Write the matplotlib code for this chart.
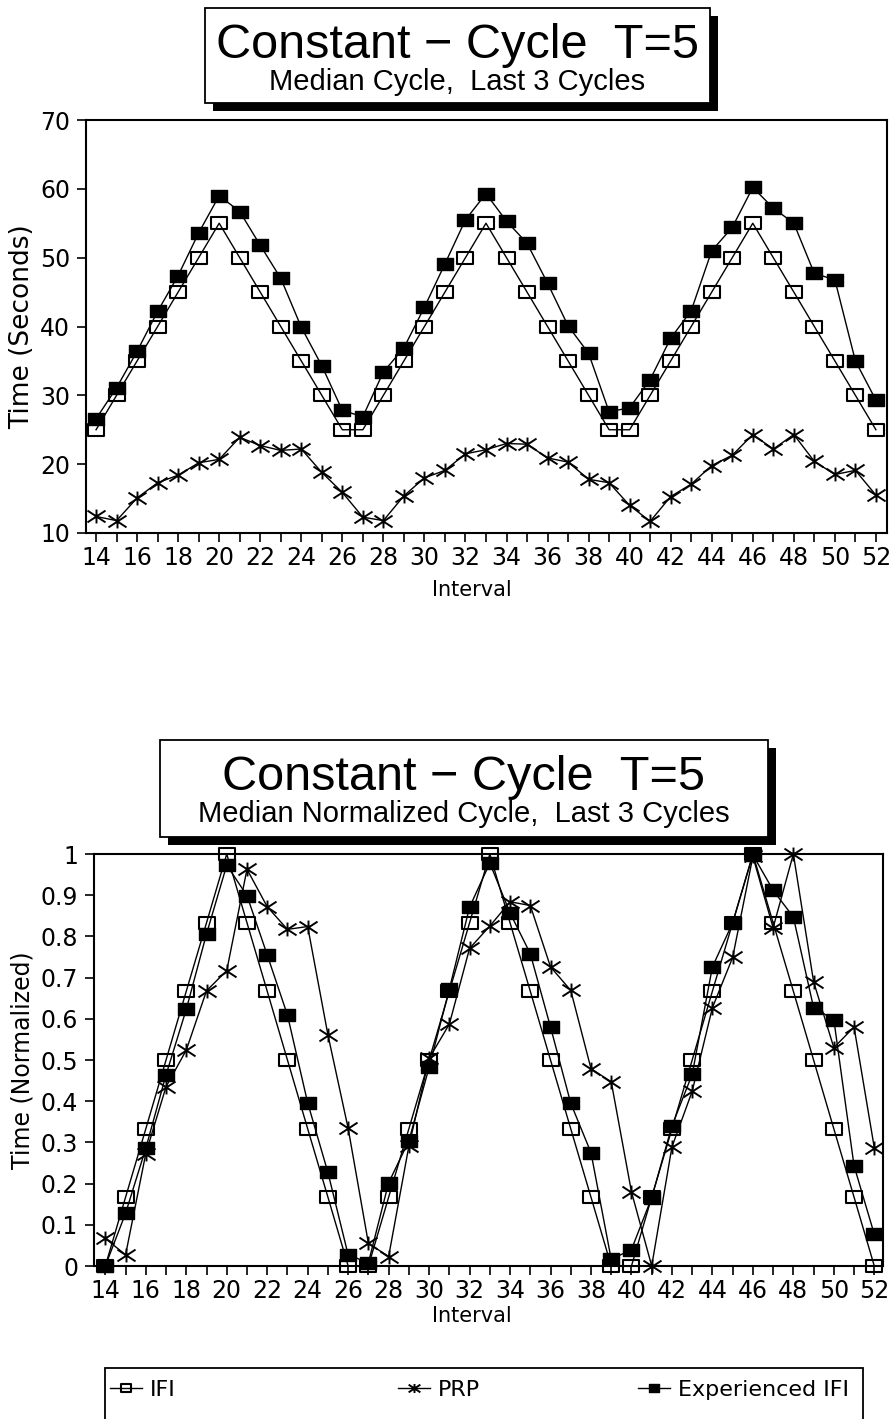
import matplotlib
matplotlib.use('Agg')
import matplotlib.pyplot as plt
from matplotlib.path import Path
from matplotlib.patches import Rectangle

plt.rcParams['font.family'] = ['DejaVu Sans']
TITLE_FONT = ['Liberation Sans', 'DejaVu Sans']

# ---- data ----
intervals = list(range(14, 53))

ifi_sec = [25, 30, 35, 40, 45, 50, 55, 50, 45, 40, 35, 30, 25,
           25, 30, 35, 40, 45, 50, 55, 50, 45, 40, 35, 30, 25,
           25, 30, 35, 40, 45, 50, 55, 50, 45, 40, 35, 30, 25]
prp_sec = [12.4, 11.8, 15.1, 17.3, 18.4, 20.2, 20.7,
           23.9, 22.7, 22.0, 22.2, 18.8, 15.9, 12.3,
           11.8, 15.4, 18.0, 19.1, 21.5, 22.1, 23.0,
           22.9, 20.9, 20.3, 17.8, 17.3, 14.0, 11.7,
           15.3, 17.1, 19.8, 21.3, 24.3, 22.2, 24.3,
           20.4, 18.5, 19.1, 15.5]
exp_sec = [26.6, 31.1, 36.4, 42.2, 47.4, 53.6, 59.0,
           56.7, 51.8, 47.0, 39.9, 34.3, 27.8, 26.9,
           33.4, 36.9, 42.8, 49.1, 55.5, 59.3, 55.3,
           52.1, 46.3, 40.1, 36.1, 27.6, 28.2, 32.3,
           38.3, 42.3, 51.0, 54.4, 60.2, 57.2, 55.0,
           47.7, 46.8, 35.0, 29.3]

ifi_norm = [0, .167, .333, .5, .667, .833, 1, .833, .667, .5, .333, .167, 0,
            0, .167, .333, .5, .667, .833, 1, .833, .667, .5, .333, .167, 0,
            0, .167, .333, .5, .667, .833, 1, .833, .667, .5, .333, .167, 0]
prp_norm = [.067, .027, .273, .435, .524, .668, .717,
            .963, .872, .817, .824, .561, .334, .055,
            .023, .291, .504, .587, .771, .825, .884,
            .875, .726, .669, .479, .447, .180, 0.0,
            .289, .424, .627, .749, .994, .821, 1.0,
            .690, .530, .580, .287]
exp_norm = [0, .128, .286, .464, .623, .806, .973,
            .899, .755, .609, .396, .227, .027, .008,
            .202, .304, .482, .672, .871, .978, .857,
            .758, .580, .395, .275, .016, .040, .166,
            .340, .465, .726, .833, .998, .912, .847,
            .627, .598, .243, .077]

series_names = ['IFI', 'PRP', 'Experienced IFI']
sec_ticks = [10, 20, 30, 40, 50, 60, 70]
norm_ticks = [0, .1, .2, .3, .4, .5, .6, .7, .8, .9, 1]
norm_labels = ['0', '0.1', '0.2', '0.3', '0.4', '0.5', '0.6', '0.7', '0.8', '0.9', '1']

# ---- markers (the plotter draws them wider than tall) ----
SQUARE = Path([(-1.36, -1), (1.36, -1), (1.36, 1), (-1.36, 1), (-1.36, -1)],
              [Path.MOVETO, Path.LINETO, Path.LINETO, Path.LINETO, Path.CLOSEPOLY])
ASTER = Path([(0, -1), (0, 1), (-1.3, -0.85), (1.3, 0.85), (-1.3, 0.85), (1.3, -0.85)],
             [Path.MOVETO, Path.LINETO] * 3)

W, H = 893, 1419
fig = plt.figure(figsize=(W / 100, H / 100), dpi=100)


def fx(px):
    return px / W


def fy(py):
    return 1 - py / H


def axes_px(left, top, right, bottom):
    return fig.add_axes([fx(left), fy(bottom), (right - left) / W, (bottom - top) / H])


def draw_series(ax, ifi, prp, exp):
    common = dict(color='black', lw=1.0, clip_on=False, mec='black')
    l1, = ax.plot(intervals, ifi, marker=SQUARE, ms=11, mfc='none', mew=1.5, zorder=3, **common)
    l2, = ax.plot(intervals, prp, marker=ASTER, ms=13, mfc='none', mew=1.4, zorder=4, **common)
    l3, = ax.plot(intervals, exp, marker=SQUARE, ms=11, mfc='black', mew=1.0, zorder=5, **common)
    return [l1, l2, l3]


def style_axes(ax, xlim):
    ax.set_xlim(*xlim)
    ax.set_xticks(intervals)
    ax.set_xticklabels([str(i) if i % 2 == 0 else '' for i in intervals])
    ax.tick_params(direction='out', length=6.5, width=1.2, labelsize=17)
    ax.tick_params(axis='x', pad=3)
    ax.tick_params(axis='y', pad=5)
    for sp in ax.spines.values():
        sp.set_linewidth(1.5)


def title_box(x0, y0, x1, y1, title, subtitle):
    fig.patches.append(Rectangle((fx(x0 + 8), fy(y1 + 8)), (x1 - x0) / W, (y1 - y0) / H,
                                 transform=fig.transFigure, facecolor='black', edgecolor='none'))
    fig.patches.append(Rectangle((fx(x0), fy(y1)), (x1 - x0) / W, (y1 - y0) / H,
                                 transform=fig.transFigure, facecolor='white', edgecolor='black', lw=1.3))
    cx = fx((x0 + x1) / 2)
    fig.text(cx, fy(y0 + 37), title, ha='center', va='center', fontsize=35, family=TITLE_FONT)
    fig.text(cx, fy(y0 + 74), subtitle, ha='center', va='center', fontsize=21, family=TITLE_FONT)


# ---- top chart: seconds ----
ax1 = axes_px(86, 120, 887, 533)
draw_series(ax1, ifi_sec, prp_sec, exp_sec)
style_axes(ax1, (13.51, 52.54))
ax1.set_ylim(10, 70)
ax1.set_yticks(sec_ticks)
ax1.set_ylabel('Time (Seconds)', fontsize=19)
ax1.yaxis.set_label_coords(-0.064, 0.5)
ax1.set_xlabel('Interval', fontsize=15)
ax1.xaxis.set_label_coords(0.482, -0.114)
title_box(205, 8, 710, 103, 'Constant \u2212 Cycle  T=5', 'Median Cycle,  Last 3 Cycles')

# ---- bottom chart: normalized ----
ax2 = axes_px(94, 854, 883, 1266)
lines = draw_series(ax2, ifi_norm, prp_norm, exp_norm)
style_axes(ax2, (13.44, 52.43))
ax2.set_ylim(0, 1)
ax2.set_yticks(norm_ticks)
ax2.set_yticklabels(norm_labels)
ax2.set_ylabel('Time (Normalized)', fontsize=17)
ax2.yaxis.set_label_coords(-0.075, 0.5)
ax2.set_xlabel('Interval', fontsize=15)
ax2.xaxis.set_label_coords(0.479, -0.097)
title_box(160, 740, 768, 837, 'Constant \u2212 Cycle  T=5', 'Median Normalized Cycle,  Last 3 Cycles')

# ---- legend box at the bottom ----
fig.patches.append(Rectangle((fx(105), fy(1440)), (863 - 105) / W, (1440 - 1368) / H,
                             transform=fig.transFigure, facecolor='white', edgecolor='black', lw=1.3))
for line, name, xstart in zip(lines, series_names, [110, 398, 638]):
    fig.legend([line], [name], loc='center left', bbox_to_anchor=(fx(xstart), fy(1390)),
               frameon=False, borderpad=0, borderaxespad=0, handlelength=1.45,
               handletextpad=0.35, markerscale=0.65, fontsize=16)

fig.savefig('out.png', dpi=100)
